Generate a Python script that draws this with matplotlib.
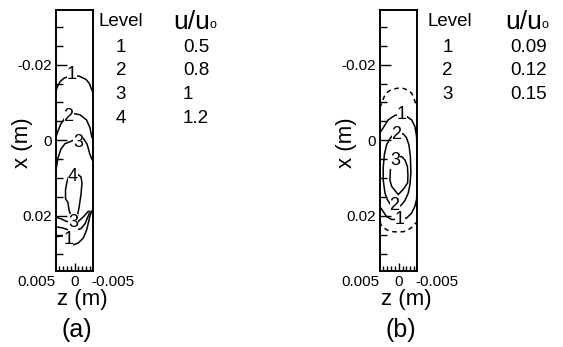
import matplotlib
matplotlib.use("Agg")
import matplotlib.pyplot as plt
import matplotlib.transforms as mtransforms
from matplotlib.ticker import MultipleLocator, FixedLocator

plt.rcParams['font.family'] = ['Liberation Sans', 'DejaVu Sans']

# contour polylines, z and x in mm
# panel (a): u/u0
a_lev1_top_z = [2.5, 2.3, 1.9, 1.4, 0.3, -0.7, -1.5, -1.95, -2.2, -2.5]
a_lev1_top_x = [-12.6, -13.9, -15.5, -16.4, -17.3, -16.9, -16.1, -15.0, -13.6, -12.3]
a_lev2_top_z = [2.42, 2.16, 1.77, 1.25, 0.79, 0.20, -0.71, -1.56, -2.02, -2.24, -2.48]
a_lev2_top_x = [-0.9, -2.5, -4.4, -5.9, -6.2, -7.1, -6.75, -5.4, -3.3, -1.0, 0.1]
a_lev3_top_z = [2.42, 2.16, 1.77, 1.25, 0.59, 0.07, -0.45, -1.15, -1.63, -2.02, -2.46]
a_lev3_top_x = [7.8, 4.6, 2.3, 0.9, 0.4, -0.1, -0.4, -0.5, 1.0, 3.8, 5.9]
a_lev4_z = [-0.32, 0.27, 0.73, 0.99, 1.18, 1.18, 0.86, 0.73, 0.46, 0.07, -0.32, -0.58, -0.84, -0.97, -0.84, -0.32]
a_lev4_x = [8.9, 8.6, 9.4, 11.0, 13.1, 15.5, 16.5, 18.4, 20.2, 21.6, 20.5, 17.9, 14.4, 11.3, 9.7, 8.9]
a_lev3_bot_z = [2.49, 1.68, 1.03, 0.14, -0.49, -1.14, -1.59, -1.80]
a_lev3_bot_x = [20.3, 20.9, 21.5, 21.8, 21.5, 20.3, 19.3, 18.8]
a_lev2_bot_z = [2.49, 1.64, 0.86, -0.06, -0.84, -1.37, -1.76, -2.02]
a_lev2_bot_x = [22.9, 23.2, 23.7, 23.9, 23.4, 22.1, 20.2, 18.9]
a_lev1_bot_z = [2.49, 2.12, 1.47, 0.82, 0.16, -0.49, -1.14, -1.59, -1.80, -2.02, -2.28]
a_lev1_bot_x = [25.5, 25.5, 25.3, 26.3, 27.7, 27.2, 25.9, 23.7, 21.9, 20.0, 18.7]

# panel (b)
b_dash_top_z = [2.46, 2.24, 1.81, 1.38, 0.90, 0.07, -0.67, -1.24, -1.68, -1.89, -2.20, -2.46]
b_dash_top_x = [-8.6, -9.8, -12.0, -12.9, -13.5, -13.8, -13.7, -13.2, -12.5, -11.6, -9.8, -8.6]
b_dash_bot_z = [2.46, 2.24, 1.59, 0.90, 0.07, -0.67, -1.24, -1.89, -2.24]
b_dash_bot_x = [21.6, 22.8, 23.7, 24.2, 24.3, 24.2, 23.7, 22.8, 21.8]
b_lev1_z = [2.46, 2.03, 1.38, 0.50, -0.28, -1.03, -1.68, -2.11, -2.33, -2.37,
            -2.37, -2.33, -2.11, -1.68, -1.03, -0.10, 0.93, 1.59, 2.03, 2.46]
b_lev1_x = [-2.0, -3.3, -5.4, -6.6, -6.75, -6.3, -5.4, -3.65, -1.0, 2.5,
            13.1, 15.7, 17.5, 19.3, 20.6, 20.9, 21.0, 20.2, 18.9, 17.6]
b_lev2_z = [0.28, -0.58, -1.00, -1.33, -1.52, -1.59, -1.46, -1.24, -0.80, -0.28,
            0.50, 1.16, 1.55, 1.81, 2.03, 2.03, 1.88, 1.59, 1.16, 0.70, 0.28]
b_lev2_x = [-1.85, -1.7, -0.7, 1.2, 4.3, 8.6, 11.8, 14.0, 16.0, 17.3,
            17.6, 16.8, 15.5, 13.9, 10.5, 7.3, 3.8, 1.2, -0.4, -1.5, -1.85]
b_lev3_z = [0.50, -0.37, -0.80, -1.13, -1.20, -1.16, -0.67, 0.07, 0.93, 1.16, 1.09, 0.90, 0.50]
b_lev3_x = [4.6, 4.3, 5.2, 6.9, 9.1, 11.3, 12.8, 14.4, 12.2, 10.5, 7.8, 6.0, 4.6]

# contour label positions (z, x) in mm
a_label_txt = ['1', '2', '3', '4', '3', '1']
a_label_z = [0.33, 0.79, -0.49, 0.20, 0.14, 0.82]
a_label_x = [-17.4, -6.2, 0.7, 9.7, 21.8, 26.3]
b_label_txt = ['1', '2', '3', '2', '1']
b_label_z = [-0.37, 0.28, 0.50, 0.55, -0.15]
b_label_x = [-6.75, -1.5, 5.4, 17.3, 20.9]

# level tables
a_levels = ['1', '2', '3', '4']
a_values = ['0.5', '0.8', '1', '1.2']
b_levels = ['1', '2', '3']
b_values = ['0.09', '0.12', '0.15']

W, H = 563, 347
fig = plt.figure(figsize=(W / 100, H / 100), dpi=100)


def setup_axes(left_px):
    ax = fig.add_axes([left_px / W, (H - 270.5) / H, 37.5 / W, 260.5 / H])
    ax.set_xlim(0.00245, -0.00245)
    ax.set_ylim(0.0345, -0.0345)
    for s in ax.spines.values():
        s.set_linewidth(1.4)
    ax.yaxis.set_major_locator(FixedLocator([-0.02, 0, 0.02]))
    ax.set_yticklabels(['-0.02', '0', '0.02'], fontsize=11)
    ax.yaxis.set_minor_locator(MultipleLocator(0.005))
    ax.xaxis.set_major_locator(FixedLocator([0]))
    ax.set_xticklabels([''])
    ax.xaxis.set_minor_locator(MultipleLocator(0.0005))
    ax.tick_params(axis='y', which='major', direction='in', length=8, width=1, pad=3)
    ax.tick_params(axis='y', which='minor', direction='in', length=5, width=1)
    ax.tick_params(axis='x', which='major', direction='in', length=6, width=1)
    ax.tick_params(axis='x', which='minor', direction='in', length=3.5, width=1)
    # z tick labels sit wider apart than the box itself
    trans = mtransforms.blended_transform_factory(ax.transData, ax.transAxes)
    for v, s in zip([0.005, 0, -0.005], ['0.005', '0', '-0.005']):
        ax.text(v, -0.045, s, transform=trans, ha='center', va='center',
                fontsize=11, clip_on=False)
    ax.set_xlabel('z (m)', fontsize=16)
    ax.xaxis.set_label_coords(0.7, -0.07)
    ax.set_ylabel('x (m)', fontsize=16)
    ax.yaxis.set_label_coords(-0.6, 0.49)
    return ax


def line(ax, z, x, **kw):
    ax.plot([v * 1e-3 for v in z], [v * 1e-3 for v in x], color='black', lw=1.1, **kw)


def labels(ax, txt, z, x):
    for t, zz, xx in zip(txt, z, x):
        ax.text(zz * 1e-3, xx * 1e-3, t, ha='center', va='center', fontsize=13,
                bbox=dict(facecolor='white', edgecolor='none', pad=0.0))


def legend(ax, level_left, num_center, head_left, val_left, levels, values):
    fig.text(level_left / W, 1 - 21.5 / H, 'Level', fontsize=13.5, ha='left', va='center')
    head = fig.text(head_left / W, 1 - 22 / H, 'u/u', fontsize=19, ha='left', va='center')
    # small ring subscript after the heading
    ax.annotate('o', xy=(1.0, 0.12), xycoords=head, fontsize=9,
                ha='left', va='bottom', annotation_clip=False)
    for i, (lv, val) in enumerate(zip(levels, values)):
        y = 1 - (47 + 23.8 * i) / H
        fig.text(num_center / W, y, lv, fontsize=13.5, ha='center', va='center')
        fig.text(val_left / W, y, val, fontsize=13.5, ha='left', va='center')


ax_a = setup_axes(55.8)
line(ax_a, a_lev1_top_z, a_lev1_top_x)
line(ax_a, a_lev2_top_z, a_lev2_top_x)
line(ax_a, a_lev3_top_z, a_lev3_top_x)
line(ax_a, a_lev4_z, a_lev4_x)
line(ax_a, a_lev3_bot_z, a_lev3_bot_x)
line(ax_a, a_lev2_bot_z, a_lev2_bot_x)
line(ax_a, a_lev1_bot_z, a_lev1_bot_x)
labels(ax_a, a_label_txt, a_label_z, a_label_x)
legend(ax_a, 99, 121, 173, 183, a_levels, a_values)

ax_b = setup_axes(380)
line(ax_b, b_dash_top_z, b_dash_top_x, linestyle=(0, (3, 2.5)))
line(ax_b, b_dash_bot_z, b_dash_bot_x, linestyle=(0, (3, 2.5)))
line(ax_b, b_lev1_z, b_lev1_x)
line(ax_b, b_lev2_z, b_lev2_x)
line(ax_b, b_lev3_z, b_lev3_x)
labels(ax_b, b_label_txt, b_label_z, b_label_x)
legend(ax_b, 427, 447.5, 505, 510, b_levels, b_values)

fig.text(77 / W, 1 - 330 / H, '(a)', fontsize=18, ha='center', va='center')
fig.text(401 / W, 1 - 330 / H, '(b)', fontsize=18, ha='center', va='center')

fig.savefig('out.png', dpi=100)
